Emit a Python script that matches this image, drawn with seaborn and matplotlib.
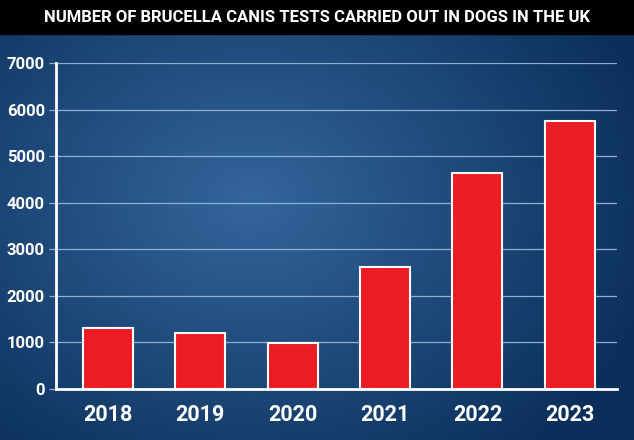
import numpy as np
import pandas as pd
import seaborn as sns
import matplotlib.pyplot as plt

years = ['2018', '2019', '2020', '2021', '2022', '2023']
tests = [1310, 1200, 990, 2620, 4640, 5750]
yticks = [0, 1000, 2000, 3000, 4000, 5000, 6000, 7000]

df = pd.DataFrame({'year': years, 'tests': tests})

sns.set_style('white')
plt.rcParams['font.family'] = ['Roboto', 'DejaVu Sans']

fig = plt.figure(figsize=(6.34, 4.40), dpi=100)

# radial blue gradient background
bg = fig.add_axes([0, 0, 1, 1])
yy, xx = np.mgrid[0:440, 0:634]
d = np.sqrt(((xx - 250) / 420.0) ** 2 + ((yy - 200) / 330.0) ** 2)
d = np.clip(d, 0, 1)
c0 = np.array([0x33, 0x66, 0x9c]) / 255.0
c1 = np.array([0x0b, 0x2f, 0x5a]) / 255.0
img = c0[None, None, :] * (1 - d[..., None]) + c1[None, None, :] * d[..., None]
bg.imshow(img, aspect='auto', extent=[0, 634, 440, 0])
bg.add_patch(plt.Rectangle((0, 0), 634, 34, color='black'))
bg.set_xlim(0, 634)
bg.set_ylim(440, 0)
bg.axis('off')
bg.text(317, 17, 'NUMBER OF BRUCELLA CANIS TESTS CARRIED OUT IN DOGS IN THE UK',
        color='white', fontsize=12, fontweight='bold', ha='center', va='center')

ax = fig.add_axes([56 / 634, 1 - 389 / 440, (617 - 56) / 634, (389 - 63) / 440])
ax.patch.set_alpha(0)
sns.barplot(data=df, x='year', y='tests', color='#ec1c24', width=0.54,
            edgecolor='white', linewidth=1.5, saturation=1, ax=ax)
ax.set_xlim(-0.56, 5.51)
ax.set_ylim(0, 7000)
ax.set_yticks(yticks)
ax.set_yticklabels([str(v) for v in yticks])
ax.grid(axis='y', color='#8fb0d4', linewidth=0.9)
ax.set_axisbelow(True)
ax.set_xlabel('')
ax.set_ylabel('')
for s in ['top', 'right']:
    ax.spines[s].set_visible(False)
for s in ['left', 'bottom']:
    ax.spines[s].set_color('white')
    ax.spines[s].set_linewidth(2)
ax.tick_params(axis='y', colors='white', labelsize=12, length=5, width=0.9,
               color='#8fb0d4', pad=3, left=True)
ax.tick_params(axis='x', colors='white', labelsize=15.5, length=0, pad=11)
for lab in ax.get_yticklabels() + ax.get_xticklabels():
    lab.set_fontweight('bold')

fig.savefig('out.png', dpi=100)
